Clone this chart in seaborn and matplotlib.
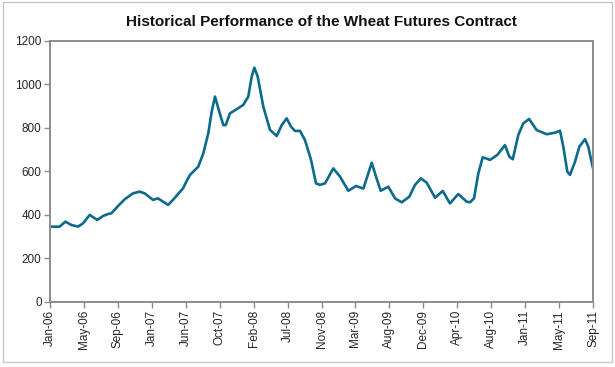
import numpy as np
import matplotlib
matplotlib.use("Agg")
import matplotlib.pyplot as plt
from matplotlib.patches import Rectangle
import seaborn as sns
import pandas as pd

# month offset from Jan-06 and futures price
months = [0, 1.21, 1.92, 2.67, 3.51, 4.13, 4.97, 5.92, 6.64, 7.26, 7.68, 8.52,
          9.36, 10.39, 11.23, 11.86, 12.90, 13.53, 14.15, 14.78, 15.40, 16.03,
          16.66, 17.07, 17.53, 18.57, 19.20, 19.82, 20.25, 20.66, 21.08, 21.70,
          22.00, 22.54, 23.38, 24.21, 24.83, 25.26, 25.59, 26.01, 26.71, 27.55,
          28.39, 29.02, 29.64, 30.18, 30.68, 31.31, 31.93, 32.69, 33.31, 33.81,
          34.44, 35.48, 36.32, 37.36, 38.32, 39.24, 39.86, 40.29, 40.83, 41.41,
          42.37, 43.21, 44.05, 45.00, 45.71, 46.46, 47.18, 48.22, 49.18, 50.09,
          51.13, 52.18, 52.60, 53.10, 53.64, 54.19, 55.10, 56.02, 56.98, 57.52,
          57.95, 58.65, 59.27, 59.99, 60.95, 62.20, 63.24, 63.87, 64.28, 64.78,
          65.12, 65.75, 66.29, 67.00, 67.41, 68.0]
prices = [345, 345, 368, 353, 345, 360, 399, 376, 394, 403, 406, 440,
          471, 498, 506, 498, 468, 475, 460, 445, 468, 495,
          521, 552, 583, 621, 682, 774, 874, 943, 889, 812,
          812, 866, 885, 905, 943, 1035, 1076, 1035, 897, 790,
          762, 812, 843, 805, 785, 785, 743, 652, 544, 537,
          544, 613, 575, 510, 532, 520, 590, 639, 575, 510,
          529, 475, 457, 483, 537, 567, 547, 478, 509, 452,
          495, 460, 457, 475, 590, 664, 652, 675, 720, 667,
          655, 767, 820, 840, 789, 770, 777, 786, 713, 598,
          583, 644, 713, 747, 713, 613]

tick_labels = ["Jan-06", "May-06", "Sep-06", "Jan-07", "Jun-07", "Oct-07", "Feb-08",
               "Jul-08", "Nov-08", "Mar-09", "Aug-09", "Dec-09", "Apr-10", "Aug-10",
               "Jan-11", "May-11", "Sep-11"]
y_ticks = [0, 200, 400, 600, 800, 1000, 1200]

df = pd.DataFrame({"month": months, "price": prices})

sns.set_style("white")
plt.rcParams["font.family"] = ["Liberation Sans", "DejaVu Sans"]

W, H = 615, 367
fig = plt.figure(figsize=(W / 100, H / 100), dpi=100)
ax = fig.add_axes([50 / W, (H - 301.7) / H, 543 / W, 261 / H])

sns.lineplot(data=df, x="month", y="price", ax=ax, color="#0d6a8b", linewidth=1.9)
ax.lines[0].set_solid_joinstyle("round")
ax.lines[0].set_solid_capstyle("round")

ax.set_xlim(0, 68)
ax.set_ylim(0, 1200)
n = len(tick_labels) - 1
ax.set_xticks([68 * k / n for k in range(n + 1)])
ax.set_xticklabels(tick_labels, rotation=90, fontsize=8.5)
ax.set_yticks(y_ticks)
ax.set_yticklabels([str(v) for v in y_ticks], fontsize=8.5)
ax.set_xlabel("")
ax.set_ylabel("")
ax.tick_params(axis="both", direction="out", length=4, width=1, color="#8c8c8c",
               bottom=True, left=True, pad=2)
for sp in ax.spines.values():
    sp.set_color("#8c8c8c")
    sp.set_linewidth(1.4)

fig.text((50 + 593) / 2 / W, 1 - 22 / H, "Historical Performance of the Wheat Futures Contract",
         ha="center", va="center", fontsize=11, fontweight="bold", color="#111111")

fig.patches.append(Rectangle((2.5 / W, (H - 361.7) / H), 609 / W, 360 / H,
                             transform=fig.transFigure, fill=False,
                             edgecolor="#c8c8c8", linewidth=1))

fig.savefig("out.png", dpi=100)
